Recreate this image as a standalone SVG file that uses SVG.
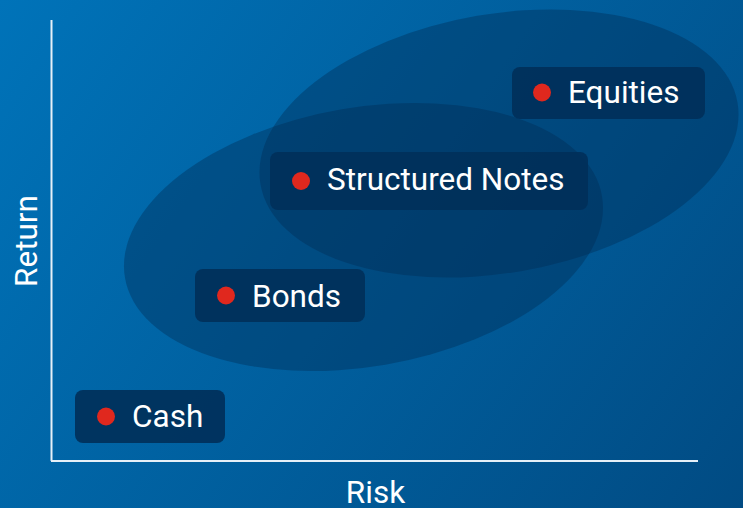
<svg xmlns="http://www.w3.org/2000/svg" width="743" height="508" viewBox="0 0 743 508">
  <defs>
    <linearGradient id="bg" x1="0" y1="0" x2="743" y2="508" gradientUnits="userSpaceOnUse">
      <stop offset="0" stop-color="#0073b9"/>
      <stop offset="1" stop-color="#014b83"/>
    </linearGradient>
  </defs>
  <style>
    .zone { fill: #002a52; fill-opacity: 0.38; }
    .box { fill: #00305a; fill-opacity: 0.92; }
    .dot { fill: #e0281e; }
    .lbl { font-family: Roboto, "Liberation Sans", sans-serif; font-size: 31.5px; fill: #ffffff; }
    .axis { stroke: #e6f0f8; stroke-width: 2; fill: none; }
    .axlbl { font-family: Roboto, "Liberation Sans", sans-serif; font-size: 31.5px; fill: #ffffff; text-anchor: middle; }
  </style>
  <rect x="0" y="0" width="743" height="508" fill="url(#bg)"/>
  <g id="zones">
    <ellipse class="zone" cx="363.5" cy="237" rx="242" ry="129.5" transform="rotate(-9.7 363.5 237)"/>
    <ellipse class="zone" cx="499" cy="143.5" rx="242" ry="129.5" transform="rotate(-9.7 499 143.5)"/>
  </g>
  <g id="connectors">
    <line class="axis" x1="51.5" y1="20" x2="51.5" y2="461"/>
    <line class="axis" x1="51" y1="461" x2="698" y2="461"/>
  </g>
  <g id="axis-labels">
    <text class="axlbl" x="375.5" y="503">Risk</text>
    <text class="axlbl" transform="translate(36.5 241) rotate(-90)" x="0" y="0">Return</text>
  </g>
  <g id="cash">
    <rect class="box" x="75" y="390" width="150" height="53" rx="8"/>
    <circle class="dot" cx="106" cy="416.5" r="9"/>
    <text class="lbl" x="132" y="427">Cash</text>
  </g>
  <g id="bonds">
    <rect class="box" x="195" y="269" width="170" height="53" rx="8"/>
    <circle class="dot" cx="226" cy="295.5" r="9"/>
    <text class="lbl" x="252" y="307">Bonds</text>
  </g>
  <g id="structured-notes">
    <rect class="box" x="270" y="152" width="318" height="58" rx="8"/>
    <circle class="dot" cx="301" cy="181" r="9"/>
    <text class="lbl" x="327" y="189.5">Structured Notes</text>
  </g>
  <g id="equities">
    <rect class="box" x="512" y="67" width="193" height="52" rx="8"/>
    <circle class="dot" cx="542" cy="92.5" r="9"/>
    <text class="lbl" x="568" y="103">Equities</text>
  </g>
</svg>
